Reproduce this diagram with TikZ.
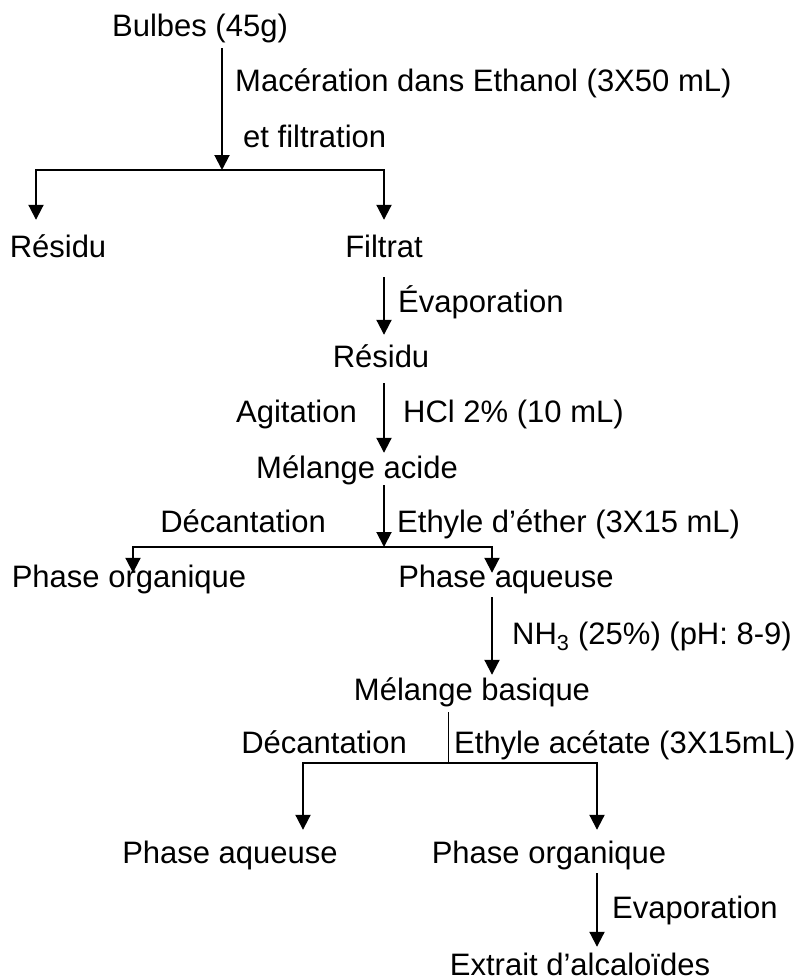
\documentclass[tikz,border=0pt]{standalone}
\usepackage{fontspec}
\setmainfont{Liberation Sans}
\usetikzlibrary{arrows.meta, positioning, calc}

\begin{document}
\begin{tikzpicture}[
    x=1pt, y=-1pt,
    every node/.style={font=\fontsize{31}{37}\selectfont, inner sep=0pt,
        text height=22pt, text depth=7pt},
    stage/.style={anchor=base},
    elabel/.style={anchor=base west},
    wlabel/.style={anchor=base east},
    mainline/.style={-{Triangle[width=15pt,length=15pt]}, line width=2pt},
    thinline/.style={line width=1pt},
]
\useasboundingbox (0,0) rectangle (806,979);

%% ============ EXTRACTION ============
\node[stage] (bulbes)  at (200, 37)  {Bulbes (45g)};
\node[stage] (residuA) at (58, 257)  {Résidu};
\node[stage] (filtrat) at (384, 257) {Filtrat};
\node[stage] (residuB) at (381, 367) {Résidu};
\node[stage] (acide)   at (357, 478) {Mélange acide};

%% ============ ACID / BASE PARTITION ============
\node[stage] (orgA)    at (129, 587) {Phase organique};
\node[stage] (aqA)     at (506, 587) {Phase aqueuse};
\node[stage] (basique) at (472, 700) {Mélange basique};
\node[stage] (aqB)     at (230, 863) {Phase aqueuse};
\node[stage] (orgB)    at (549, 863) {Phase organique};
\node[stage, text depth=3pt] (extrait) at (580, 975) {Extrait d’alcaloïdes};

%% junctions of the split arrows
\coordinate (j1) at (222, 170);
\coordinate (j2) at (384, 547);
\coordinate (j3) at (448, 763);

%% ============ EDGE LABELS ============
\node[elabel] (macer)  at (235, 92)  {Macération dans Ethanol (3X50 mL)};
\node[elabel] (filtr)  at (243, 147) {et filtration};
\node[elabel] (evapA)  at (398, 312) {Évaporation};
\node[wlabel] (agit)   at (357, 422) {Agitation};
\node[elabel] (hcl)    at (403, 422) {HCl 2\% (10 mL)};
\node[wlabel] (decA)   at (326, 532) {Décantation};
\node[elabel] (ether)  at (397, 532) {Ethyle d’éther (3X15 mL)};
\node[elabel] (nh3)    at (512, 644) {NH\textsubscript{3} (25\%) (pH: 8-9)};
\node[wlabel] (decB)   at (407, 753) {Décantation};
\node[elabel] (acet)   at (454, 753) {Ethyle acétate (3X15mL)};
\node[elabel] (evapB)  at (612, 918) {Evaporation};

%% ============ CONNECTORS ============
\draw[mainline, shorten <=4pt] (bulbes.south -| j1) -- (j1);
\draw[mainline, shorten >=15pt] (j1) -| ([xshift=-22pt]residuA.north);
\draw[mainline, shorten >=15pt] (j1) -| (filtrat.north);

\draw[mainline, shorten <=13pt, shorten >=10pt] (filtrat.south) -- (filtrat.south |- residuB.north);
\draw[mainline, shorten <=9pt, shorten >=3pt] (filtrat.south |- residuB.south) -- (filtrat.south |- acide.north);

% acid mixture -> two phases
\draw[mainline] (acide.south -| j2) -- (j2);
\draw[mainline, shorten >=-8pt] (j2) -| ([xshift=4pt]orgA.north);
\draw[mainline, shorten >=-8pt] (j2) -| ([xshift=-14pt]aqA.north);

\draw[mainline, shorten <=3pt, shorten >=3pt] ([xshift=-14pt]aqA.south) -- ([xshift=-14pt]aqA.south |- basique.north);

% basic mixture -> two phases
\draw[thinline, shorten <=5pt] (basique.south -| j3) -- (j3);
\draw[mainline, shorten >=11pt] (j3) -| ([xshift=73pt]aqB.north);
\draw[mainline, shorten >=11pt] (j3) -| ([xshift=48pt]orgB.north);

\draw[mainline, shorten <=3pt, shorten >=6pt] ([xshift=48pt]orgB.south) -- ([xshift=48pt]orgB.south |- extrait.north);

\end{tikzpicture}
\end{document}
